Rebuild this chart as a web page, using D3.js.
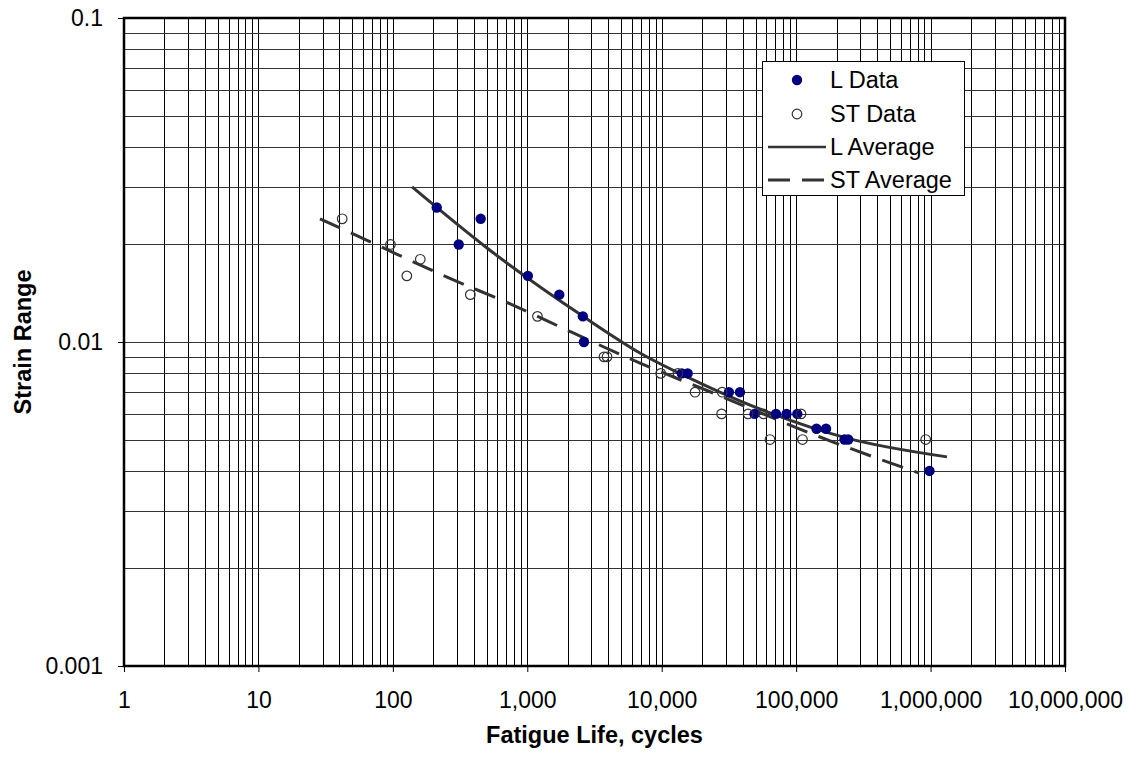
<!DOCTYPE html>
<html><head><meta charset="utf-8">
<script src="https://cdn.jsdelivr.net/npm/d3@7"></script>
<style>
html,body{margin:0;padding:0;background:#fff;}
svg{display:block;font-family:"Liberation Sans",Arial,Helvetica,sans-serif;}
</style></head>
<body>
<svg id="chart" width="1131" height="760"></svg>
<script>
// ---- data ----
const xTicks = [1, 10, 100, 1000, 10000, 100000, 1000000, 10000000];
const yTicks = [0.001, 0.01, 0.1];

const lDataX = [212, 309, 450, 1010, 1730, 2590, 2640, 14100, 15600, 31600, 38200, 49000, 70800, 84800, 102000, 141700, 166800, 229000, 244000, 982000];
const lDataY = [0.026, 0.020, 0.024, 0.016, 0.014, 0.012, 0.010, 0.008, 0.008, 0.007, 0.007, 0.006, 0.006, 0.006, 0.006, 0.0054, 0.0054, 0.005, 0.005, 0.004];

const stDataX = [42, 96, 160, 127, 377, 1190, 3720, 3920, 9830, 13200, 17700, 28200, 27900, 43900, 57200, 63900, 108700, 111500, 920000];
const stDataY = [0.024, 0.020, 0.018, 0.016, 0.014, 0.012, 0.009, 0.009, 0.008, 0.008, 0.007, 0.007, 0.006, 0.006, 0.006, 0.005, 0.006, 0.005, 0.005];

const lAvgX = [139, 510, 2600, 6890, 19300, 63900, 239000, 1325000];
const lAvgY = [0.0301, 0.0194, 0.0120, 0.00925, 0.00747, 0.00604, 0.00505, 0.00442];

const stAvgX = [28.7, 71, 253, 783, 2115, 6890, 24100, 150500, 820000];
const stAvgY = [0.0240, 0.0202, 0.01586, 0.0130, 0.01074, 0.00861, 0.00696, 0.00509, 0.00394];

const legendLabels = ["L Data", "ST Data", "L Average", "ST Average"];
const xTitle = "Fatigue Life, cycles";
const yTitle = "Strain Range";

// ---- drawing ----
const svg = d3.select("#chart");
const L = 124, R = 1065, T = 18, B = 666;
const x = d3.scaleLog().domain([1, 1e7]).range([L, R]);
const y = d3.scaleLog().domain([0.001, 0.1]).range([B, T]);

// grid
const xGrid = [], yGrid = [];
for (let e = 0; e < 7; e++) for (let m = 1; m <= 9; m++) xGrid.push(m * Math.pow(10, e));
xGrid.push(1e7);
for (let e = -3; e < -1; e++) for (let m = 1; m <= 9; m++) yGrid.push(m * Math.pow(10, e));
yGrid.push(0.1);

const grid = svg.append("g").attr("shape-rendering", "crispEdges");
grid.selectAll("line.v").data(xGrid).join("line")
  .attr("x1", d => Math.round(x(d)) + 0.5).attr("x2", d => Math.round(x(d)) + 0.5)
  .attr("y1", T).attr("y2", B).attr("stroke", "#000").attr("stroke-width", 1);
grid.selectAll("line.h").data(yGrid).join("line")
  .attr("y1", d => Math.round(y(d)) + 0.5).attr("y2", d => Math.round(y(d)) + 0.5)
  .attr("x1", L).attr("x2", R).attr("stroke", "#333").attr("stroke-width", 1);

// axes
const fmtX = d3.format(",");
const xAxis = d3.axisBottom(x).tickValues(xTicks).tickFormat(d => fmtX(d)).tickSize(6).tickPadding(20);
const gx = svg.append("g").attr("transform", `translate(0,${B})`).call(xAxis);
gx.select(".domain").remove();
gx.selectAll("text").attr("font-size", 23).attr("fill", "#000").attr("font-family", "Liberation Sans, Arial, sans-serif");
gx.selectAll("line").attr("stroke", "#000");

const yAxis = d3.axisLeft(y).tickValues(yTicks).tickFormat(d => String(d)).tickSize(6).tickPadding(15);
const gy = svg.append("g").attr("transform", `translate(${L},0)`).call(yAxis);
gy.select(".domain").remove();
gy.selectAll("text").attr("font-size", 23).attr("fill", "#000").attr("font-family", "Liberation Sans, Arial, sans-serif");
gy.selectAll("line").attr("stroke", "#000");

// frame
svg.append("rect").attr("x", L).attr("y", T).attr("width", R - L).attr("height", B - T)
  .attr("fill", "none").attr("stroke", "#000").attr("stroke-width", 2.5);

// lines
const line = d3.line().x(d => x(d[0])).y(d => y(d[1])).curve(d3.curveMonotoneX);
svg.append("path").datum(lAvgX.map((v, i) => [v, lAvgY[i]]))
  .attr("d", line).attr("fill", "none").attr("stroke", "#333").attr("stroke-width", 3);
svg.append("path").datum(stAvgX.map((v, i) => [v, stAvgY[i]]))
  .attr("d", line).attr("fill", "none").attr("stroke", "#333").attr("stroke-width", 3)
  .attr("stroke-dasharray", "22,12");

// points
svg.append("g").selectAll("circle").data(lDataX.map((v, i) => [v, lDataY[i]])).join("circle")
  .attr("cx", d => x(d[0])).attr("cy", d => y(d[1])).attr("r", 5.2).attr("fill", "#000080");
svg.append("g").selectAll("circle").data(stDataX.map((v, i) => [v, stDataY[i]])).join("circle")
  .attr("cx", d => x(d[0])).attr("cy", d => y(d[1])).attr("r", 4.8)
  .attr("fill", "none").attr("stroke", "#333").attr("stroke-width", 1.2);

// legend
const lg = svg.append("g");
lg.append("rect").attr("x", 762.5).attr("y", 61.5).attr("width", 202).attr("height", 134)
  .attr("fill", "#fff").attr("stroke", "#000").attr("stroke-width", 1);
const rowY = [80, 114, 147, 180];
lg.append("circle").attr("cx", 797).attr("cy", rowY[0]).attr("r", 5.2).attr("fill", "#000080");
lg.append("circle").attr("cx", 797).attr("cy", rowY[1]).attr("r", 4.8).attr("fill", "none").attr("stroke", "#333").attr("stroke-width", 1.2);
lg.append("line").attr("x1", 768).attr("x2", 826).attr("y1", rowY[2]).attr("y2", rowY[2]).attr("stroke", "#333").attr("stroke-width", 2.5);
lg.append("line").attr("x1", 768).attr("x2", 826).attr("y1", rowY[3]).attr("y2", rowY[3]).attr("stroke", "#333").attr("stroke-width", 3).attr("stroke-dasharray", "22,12");
lg.selectAll("text").data(legendLabels).join("text")
  .attr("x", 830).attr("y", (d, i) => rowY[i]).attr("dy", "0.36em")
  .attr("font-size", 23.5).attr("fill", "#000").text(d => d);

// titles
svg.append("text").attr("x", (L + R) / 2).attr("y", 743).attr("text-anchor", "middle")
  .attr("font-size", 23.5).attr("font-weight", "bold").text(xTitle);
svg.append("text").attr("transform", `translate(31,${(T + B) / 2}) rotate(-90)`).attr("text-anchor", "middle")
  .attr("font-size", 23.5).attr("font-weight", "bold").text(yTitle);
</script>
</body></html>
